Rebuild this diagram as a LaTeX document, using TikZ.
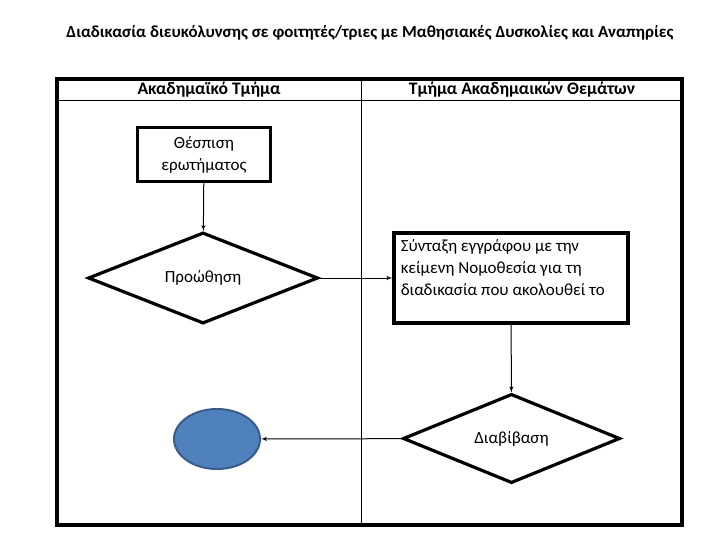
\documentclass[tikz,border=0pt]{standalone}
\usepackage{fontspec}
\setmainfont{Carlito}
\usepackage{tikz}
\usetikzlibrary{arrows,shapes.geometric,positioning}

\begin{document}
\begin{tikzpicture}[->,>=latex',x=1pt,y=-1pt,line width=1pt,
                    font=\fontsize{17}{22}\selectfont]
  \tikzstyle{step box}=[draw,line width=3.5pt,rectangle,inner sep=0pt]
  \tikzstyle{decision}=[draw,line width=3.2pt,diamond,inner sep=0pt]
  \tikzstyle{lane head}=[font=\bfseries\fontsize{17.6}{21}\selectfont]
  \tikzstyle{stop}=[draw=endline,fill=endfill,line width=2pt,ellipse,
                    minimum width=86pt,minimum height=60pt]
  \definecolor{endfill}{RGB}{79,129,189}
  \definecolor{endline}{RGB}{56,93,138}

  \useasboundingbox (0,0) rectangle (719,556);

  % title and lanes
  \node[font=\bfseries\fontsize{16.9}{20}\selectfont] (title) at (370,33)
    {Διαδικασία διευκόλυνσης σε φοιτητές/τριες με Μαθησιακές Δυσκολίες και Αναπηρίες};
  \draw[-] (57,101) -- (682,101);
  \draw[-] (361,79.5) -- (361,525);
  \draw[-,line width=4pt] (57,79.5) rectangle (682,525);
  \node[lane head] (dept) at (209,90) {Ακαδημαϊκό Τμήμα};
  \node[lane head] (acad) at (522,90) {Τμήμα Ακαδημαικών Θεμάτων};

  % steps
  \node[step box,minimum width=133pt,minimum height=54pt,align=center]
    (ask) at (204,154.5) {Θέσπιση\\ερωτήματος};
  \node[decision,minimum width=230pt,minimum height=80pt]
    (fwd) at (203,278) {Προώθηση};
  \node[step box,minimum width=234pt,minimum height=90pt]
    (doc) at (511,278) {};
  \node[anchor=north west,align=left,inner sep=0pt] (doctext)
    at ([xshift=8pt,yshift=-8pt]doc.north west)
    {Σύνταξη εγγράφου με την\\κείμενη Νομοθεσία για τη\\διαδικασία που ακολουθεί το};
  \node[decision,minimum width=217pt,minimum height=83pt]
    (send) at (511.5,438.5) {Διαβίβαση};
  \node[stop] (end) at (217,439) {};

  \path (ask) edge (fwd)
        (fwd) edge (doc)
        (doc) edge (send)
        (send) edge (end);
\end{tikzpicture}
\end{document}
